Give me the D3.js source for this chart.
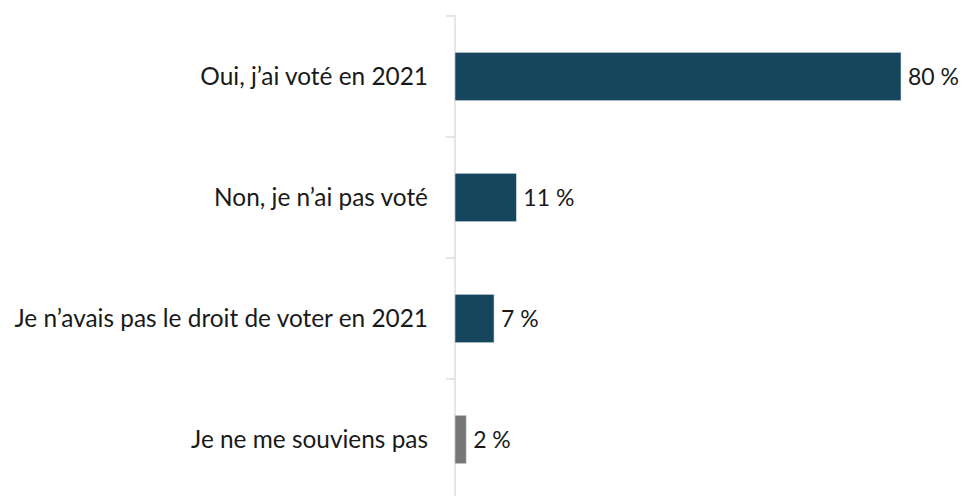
<!DOCTYPE html>
<html>
<head>
<meta charset="utf-8">
<script src="https://cdn.jsdelivr.net/npm/d3@7"></script>
<style>
  html, body { margin: 0; padding: 0; background: #ffffff; }
  svg { display: block; }
  text { font-family: Lato, "Open Sans", sans-serif; fill: #1a1a1a; }
</style>
</head>
<body>
<svg id="chart" width="963" height="496"></svg>
<script>
// Réponses et pourcentages
const categories = [
  "Oui, j\u2019ai voté en 2021",
  "Non, je n\u2019ai pas voté",
  "Je n\u2019avais pas le droit de voter en 2021",
  "Je ne me souviens pas"
];
const values = [80, 11, 7, 2];
const valueLabels = ["80 %", "11 %", "7 %", "2 %"];
const barColors = ["#16465e", "#16465e", "#16465e", "#767676"];

const svg = d3.select("#chart");
const width = 963, height = 496;
const x0 = 455;

const x = d3.scaleLinear().domain([0, 80]).range([x0, 901]);
const y = d3.scaleBand()
  .domain(categories)
  .range([16, 500])
  .paddingInner(0.6)
  .paddingOuter(0.3);

// Axe vertical avec graduations entre les catégories
const g = svg.append("g");
g.append("line")
  .attr("x1", x0).attr("x2", x0)
  .attr("y1", 15).attr("y2", height)
  .attr("stroke", "#d9d9d9").attr("stroke-width", 1.3);

const boundaries = d3.range(categories.length + 1).map(i => y.range()[0] + i * y.step());
g.selectAll("line.tick")
  .data(boundaries)
  .join("line")
  .attr("class", "tick")
  .attr("x1", x0 - 9).attr("x2", x0)
  .attr("y1", d => d).attr("y2", d => d)
  .attr("stroke", "#d9d9d9").attr("stroke-width", 1.3);

// Barres
svg.selectAll("rect.bar")
  .data(values)
  .join("rect")
  .attr("class", "bar")
  .attr("x", x(0))
  .attr("y", (d, i) => y(categories[i]))
  .attr("width", d => x(d) - x(0))
  .attr("height", y.bandwidth())
  .attr("fill", (d, i) => barColors[i])
  .attr("stroke", "#cfdde6")
  .attr("stroke-width", 0.6);

// Étiquettes de catégories
svg.selectAll("text.cat")
  .data(categories)
  .join("text")
  .attr("class", "cat")
  .attr("x", x0 - 27)
  .attr("y", d => y(d) + y.bandwidth() / 2)
  .attr("dy", "0.35em")
  .attr("text-anchor", "end")
  .attr("font-size", 24.4)
  .text(d => d);

// Étiquettes de valeurs
svg.selectAll("text.val")
  .data(values)
  .join("text")
  .attr("class", "val")
  .attr("x", d => x(d) + 7)
  .attr("y", (d, i) => y(categories[i]) + y.bandwidth() / 2)
  .attr("dy", "0.35em")
  .attr("font-size", 23)
  .text((d, i) => valueLabels[i]);
</script>
</body>
</html>
